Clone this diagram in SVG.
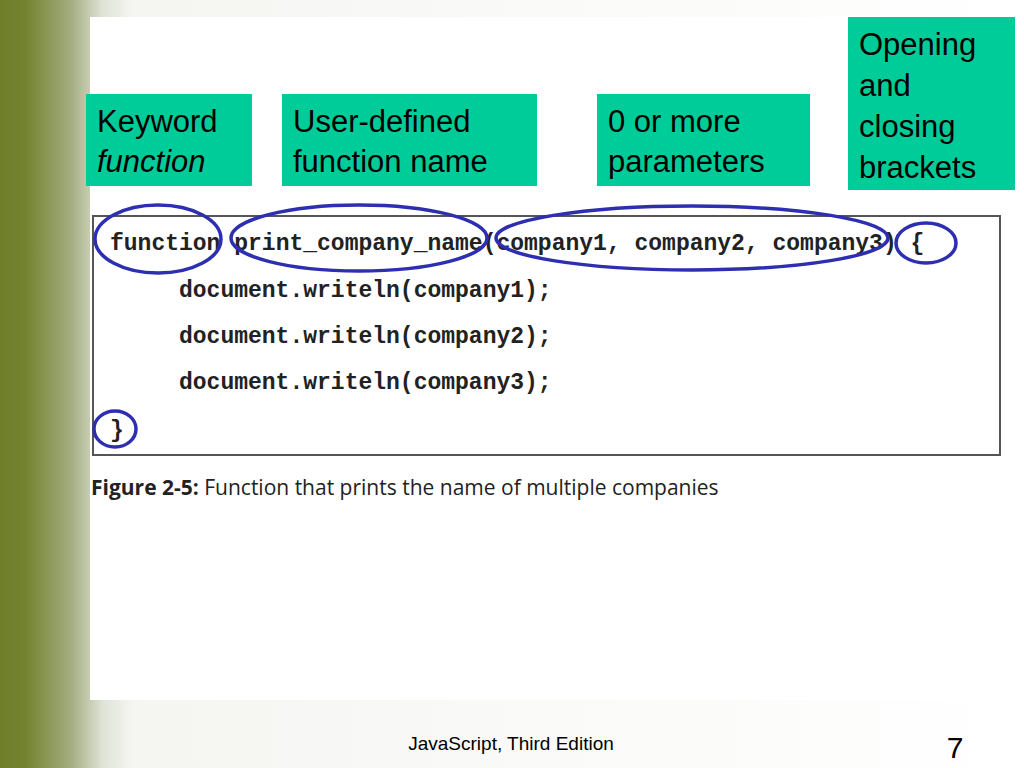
<svg xmlns="http://www.w3.org/2000/svg" width="1024" height="768" viewBox="0 0 1024 768">
<defs>
<linearGradient id="bg" x1="0" y1="0" x2="1" y2="0">
<stop offset="0" stop-color="#6e7e29"/><stop offset="0.025" stop-color="#738330"/><stop offset="0.07" stop-color="#a4ae82"/><stop offset="0.1" stop-color="#dfe3d6"/><stop offset="0.13" stop-color="#f5f6f2"/><stop offset="1" stop-color="#ffffff"/>
</linearGradient>
<style>
.lbl{fill:#00cc99}
.t{font-family:"Liberation Sans",Arial,sans-serif;font-size:31px;fill:#000}
.code{font-family:"Liberation Mono","Courier New",monospace;font-size:23px;fill:#222;font-weight:bold}
.ov{fill:none;stroke:#2e2eb0;stroke-width:3.5}
</style>
</defs>
<rect width="1024" height="768" fill="url(#bg)"/>
<rect x="90" y="17" width="910" height="683" fill="#fff"/>
<g id="code">
<rect x="93" y="216" width="907" height="239" fill="#fff" stroke="#555" stroke-width="2"/>
<text class="code" x="110" y="250" xml:space="preserve">function print_company_name(company1, company2, company3) {</text>
<text class="code" x="179" y="297">document.writeln(company1);</text>
<text class="code" x="179" y="343">document.writeln(company2);</text>
<text class="code" x="179" y="389">document.writeln(company3);</text>
<text class="code" x="110" y="437">}</text>
</g>
<text x="91" y="495" font-family="'Open Sans','Liberation Sans',sans-serif" font-size="21" fill="#222"><tspan font-weight="bold">Figure 2-5:</tspan> Function that prints the name of multiple companies</text>
<g id="keyword"><rect class="lbl" x="86" y="94" width="166" height="92"/><text class="t" x="97" y="132">Keyword</text><text class="t" x="97" y="172" font-style="italic">function</text></g>
<g id="username"><rect class="lbl" x="282" y="94" width="255" height="92"/><text class="t" x="293" y="132">User-defined</text><text class="t" x="293" y="172">function name</text></g>
<g id="params"><rect class="lbl" x="597" y="94" width="213" height="92"/><text class="t" x="608" y="132">0 or more</text><text class="t" x="608" y="172">parameters</text></g>
<g id="brackets"><rect class="lbl" x="848" y="17" width="167" height="173"/><text class="t" x="859" y="55">Opening</text><text class="t" x="859" y="96">and</text><text class="t" x="859" y="137">closing</text><text class="t" x="859" y="178">brackets</text></g>
<g id="ovals">
<ellipse class="ov" cx="158" cy="239" rx="63" ry="34"/>
<ellipse class="ov" cx="359" cy="238" rx="128" ry="33"/>
<ellipse class="ov" cx="692" cy="238" rx="196" ry="32"/>
<ellipse class="ov" cx="926" cy="243" rx="30" ry="20"/>
<ellipse class="ov" cx="115" cy="429" rx="21" ry="18"/>
</g>
<text x="511" y="750" text-anchor="middle" font-family="'Liberation Sans',Arial,sans-serif" font-size="19" fill="#000">JavaScript, Third Edition</text>
<text x="955" y="758" text-anchor="middle" font-family="'Liberation Sans',Arial,sans-serif" font-size="30" fill="#000">7</text>
</svg>
